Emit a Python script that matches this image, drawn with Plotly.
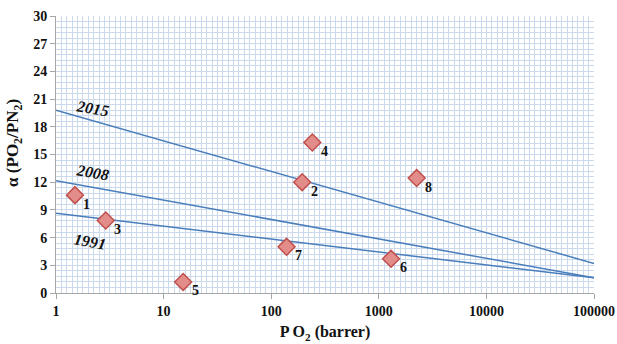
import math
import plotly.graph_objects as go

# Data points
pt_labels = ["1", "2", "3", "4", "5", "6", "7", "8"]
pt_x = [1.5, 194, 2.9, 241, 15.2, 1300, 139, 2250]
pt_y = [10.6, 12.0, 7.85, 16.3, 1.2, 3.7, 5.0, 12.45]

# Upper bound lines (endpoints)
line_names = ["2015", "2008", "1991"]
line_x = [1, 100000]
line_y = {
    "2015": [19.8, 3.2],
    "2008": [12.17, 1.65],
    "1991": [8.63, 1.65],
}
# label anchors for lines (P value, alpha value)
label_x = [2.2, 2.2, 2.05]
label_y = [20.0, 13.0, 5.6]

x_ticks = [1, 10, 100, 1000, 10000, 100000]
y_ticks = [0, 3, 6, 9, 12, 15, 18, 21, 24, 27, 30]

serif = "Liberation Serif"
blue = "#4a7ebb"
txt = "#111111"

fig = go.Figure()

for name in line_names:
    fig.add_trace(go.Scatter(x=line_x, y=line_y[name], mode="lines",
                             line=dict(color=blue, width=1.5),
                             showlegend=False, hoverinfo="skip"))

fig.add_trace(go.Scatter(
    x=pt_x, y=pt_y, mode="markers",
    marker=dict(symbol="diamond", size=13, color="#e38d8a",
                line=dict(color="#c0504d", width=1.5)),
    showlegend=False, cliponaxis=False))

for lab, px, py in zip(pt_labels, pt_x, pt_y):
    fig.add_annotation(x=math.log10(px), y=py, xref="x", yref="y", text=lab,
                       showarrow=False, xanchor="center", yanchor="middle",
                       xshift=12, yshift=-9,
                       font=dict(family=serif, size=14, color=txt, weight="bold"))

# invisible trace for the overlay grid axis
fig.add_trace(go.Scatter(x=[0, 100], y=[0, 30], xaxis="x2", mode="markers",
                         marker=dict(opacity=0), showlegend=False,
                         hoverinfo="skip"))

for name, lx, ly in zip(line_names, label_x, label_y):
    fig.add_annotation(x=math.log10(lx), y=ly, xref="x", yref="y",
                       text="<b><i>%s</i></b>" % name,
                       showarrow=False, xanchor="center", yanchor="middle",
                       textangle=10,
                       font=dict(family=serif, size=16, color=txt))

# y-axis title
fig.add_annotation(x=-0.078, y=0.542, xref="paper", yref="paper",
                   text="<b>α (PO<sub>2</sub>/PN<sub>2</sub>)</b>",
                   showarrow=False, textangle=-90,
                   xanchor="center", yanchor="middle",
                   font=dict(family=serif, size=17, color=txt))

grid_color = "#cbd9ec"
tickfont = dict(family=serif, size=14, color=txt, weight="bold")

fig.update_layout(
    width=617, height=344,
    margin=dict(l=56, r=23, t=16, b=51),
    paper_bgcolor="white", plot_bgcolor="white",
    xaxis=dict(type="log", range=[0, 5], tickvals=x_ticks,
               ticktext=[str(v) for v in x_ticks],
               showgrid=False, showline=True, linecolor="#a6a6a6", linewidth=1,
               ticks="outside", ticklen=5, tickcolor="#a6a6a6",
               tickfont=tickfont, automargin=False, ticklabeloverflow="allow",
               title=dict(text="<b>P O<sub>2</sub> (barrer)</b>",
                          font=dict(family=serif, size=16, color=txt),
                          standoff=8),
               zeroline=False),
    xaxis2=dict(overlaying="x", range=[0, 100], dtick=1, showgrid=True,
                gridcolor=grid_color, gridwidth=1, showticklabels=False,
                ticks="", zeroline=False, showline=False, automargin=False),
    yaxis=dict(range=[0, 30], tickvals=y_ticks, showgrid=True,
               gridcolor=grid_color, gridwidth=1,
               minor=dict(dtick=0.6, showgrid=True, gridcolor=grid_color, gridwidth=1),
               showline=True, linecolor="#a6a6a6", linewidth=1,
               ticks="outside", ticklen=5, tickcolor="#a6a6a6",
               tickfont=tickfont, automargin=False, ticklabeloverflow="allow",
               zeroline=False),
)

fig.write_html("out.html",
               config={"displayModeBar": False},
               post_script="document.body.style.margin='0';"
                           "document.body.style.overflow='hidden';")
